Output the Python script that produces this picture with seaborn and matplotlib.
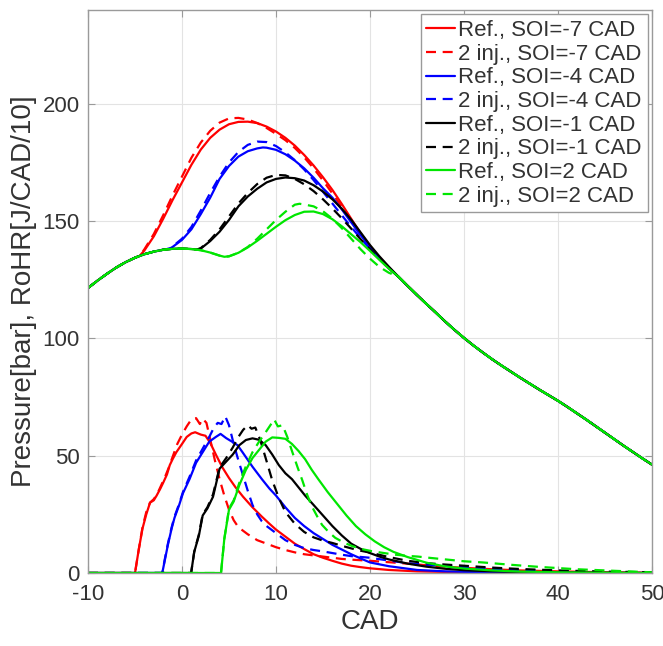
import matplotlib
matplotlib.use("Agg")
import matplotlib.pyplot as plt
import seaborn as sns
import pandas as pd

# ---------------- data ----------------
LABELS = ["Ref., SOI=-7 CAD", "2 inj., SOI=-7 CAD",
          "Ref., SOI=-4 CAD", "2 inj., SOI=-4 CAD",
          "Ref., SOI=-1 CAD", "2 inj., SOI=-1 CAD",
          "Ref., SOI=2 CAD", "2 inj., SOI=2 CAD"]
COLORS = ["#ff0000", "#ff0000", "#0000ff", "#0000ff",
          "#000000", "#000000", "#00e600", "#00e600"]
DASHED = [False, True, False, True, False, True, False, True]

# shared compression (motored) part of the pressure trace
MOT_CAD = [-10, -9, -8, -7, -6, -5, -4, -3, -2, -1, 0, 1, 2]
MOT_P = [121.5, 124.6, 127.5, 130.2, 132.5, 134.4, 135.9, 137.0, 137.8, 138.2, 138.3, 138.1, 137.6]

# shared expansion part of the pressure trace
EXP_CAD = [23, 24, 25, 26, 27, 28, 29, 30, 31, 32, 33, 34, 35, 36, 37, 38, 39, 40,
           41, 42, 43, 44, 45, 46, 47, 48, 49, 50]
EXP_P = [126.4, 122.4, 118.5, 114.7, 111.0, 107.2, 103.6, 100.2, 97.0, 94.0, 91.1, 88.4,
         85.8, 83.2, 80.7, 78.2, 75.8, 73.4, 70.8, 68.1, 65.4, 62.6, 59.8, 57.0, 54.2,
         51.5, 48.8, 46.2]

# combustion part of each pressure trace
P_CAD = [
    [-4.5, -4, -3, -2, -1, 0, 1, 2, 3, 4, 5, 6, 7, 8, 9, 10, 11, 12, 13, 14, 15, 16, 17, 18, 19, 20, 21, 22],
    [-4.5, -4, -3, -2, -1, 0, 1, 2, 3, 4, 5, 6, 7, 8, 9, 10, 11, 12, 13, 14, 15, 16, 17, 18, 19, 20, 21, 22],
    [-1.3, -1, 0, 1, 2, 3, 4, 5, 6, 7, 8, 8.6, 9, 10, 11, 12, 13, 14, 15, 16, 17, 18, 19, 20, 21, 22],
    [-1.3, -1, 0, 1, 2, 3, 4, 5, 6, 7, 8, 9, 10, 11, 12, 13, 14, 15, 16, 17, 18, 19, 20, 21, 22],
    [1.6, 2, 3, 4, 5, 6, 7, 8, 9, 10, 11, 12, 13, 14, 15, 16, 17, 18, 19, 20, 21, 22],
    [1.6, 2, 3, 4, 5, 6, 7, 8, 9, 10, 11, 12, 13, 14, 15, 16, 17, 18, 19, 20, 21, 22],
    [3, 4, 4.5, 5, 6, 7, 8, 9, 10, 11, 12, 13, 14, 15, 16, 17, 18, 19, 20, 21, 22],
    [3, 4, 4.5, 5, 6, 7, 8, 9, 10, 11, 12, 12.5, 13, 14, 15, 16, 17, 18, 19, 20, 21, 22],
]
P_VAL = [
    [135.2, 137.5, 143.5, 151.0, 159.0, 166.5, 174.0, 180.5, 185.5, 189.0, 191.3, 192.3, 192.4, 191.8,
     190.3, 188.2, 185.5, 182.2, 178.2, 173.7, 168.7, 163.3, 157.3, 151.0, 144.8, 139.4, 134.6, 130.3],
    [135.2, 138.0, 144.5, 152.5, 161.0, 169.0, 177.0, 183.5, 188.5, 192.0, 193.8, 194.0, 193.3, 191.8,
     189.7, 187.2, 184.5, 181.2, 177.2, 172.5, 167.3, 161.8, 156.0, 150.0, 144.2, 138.9, 134.0, 129.8],
    [138.3, 139.0, 142.0, 146.5, 153.0, 160.0, 168.0, 173.5, 177.5, 179.8, 181.0, 181.4, 181.3, 180.4,
     178.5, 175.8, 172.5, 168.5, 164.0, 160.0, 155.0, 149.5, 144.0, 139.0, 134.4, 130.2],
    [138.3, 139.2, 142.5, 147.5, 154.5, 162.0, 169.0, 175.0, 179.5, 182.5, 183.9, 183.7, 182.0, 179.3,
     176.0, 172.0, 167.5, 162.5, 157.5, 152.5, 147.5, 142.7, 138.2, 133.9, 129.9],
    [137.9, 138.3, 141.5, 145.5, 150.5, 156.3, 160.5, 163.8, 166.5, 168.0, 168.6, 168.3, 167.3, 165.3,
     162.6, 159.3, 155.3, 150.6, 145.2, 139.8, 135.0, 130.6],
    [137.9, 138.5, 142.0, 146.5, 152.0, 157.5, 162.0, 165.8, 168.5, 169.7, 169.5, 168.0, 165.7, 162.8,
     159.3, 155.4, 151.2, 146.8, 142.3, 138.0, 133.8, 129.8],
    [136.6, 135.3, 134.8, 135.0, 136.5, 138.8, 141.6, 144.6, 147.6, 150.4, 152.6, 154.0, 154.1, 153.0,
     150.8, 147.8, 144.4, 141.0, 137.3, 133.5, 129.8],
    [136.6, 135.3, 134.8, 135.0, 136.5, 139.0, 142.5, 146.5, 150.5, 154.0, 157.0, 157.4, 157.1, 156.3,
     154.2, 151.0, 147.0, 142.5, 138.0, 134.0, 130.5, 128.0],
]

# rate of heat release / 10
H_CAD = [
    [-10, -5.0, -4.6, -4.2, -3.8, -3.4, -3.0, -2.7, -2.3, -2.0, -1.6, -1.3, -1.0, -0.6, 0, 0.5, 1.0, 1.4,
     2.0, 2.5, 3.0, 3.6, 4.3, 5, 5.7, 6.5, 7.5, 8.5, 9.3, 10, 11, 12, 13, 14, 15, 16, 17, 18, 19, 20,
     22, 25, 30, 35, 40, 50],
    [-10, -5.0, -4.6, -4.2, -3.8, -3.4, -3.0, -2.6, -2.2, -1.8, -1.4, -1.0, -0.5, 0, 0.5, 1.0, 1.5, 1.9,
     2.2, 2.6, 3.0, 3.5, 4, 4.5, 5, 5.5, 6, 7, 8, 9, 10, 11, 12, 13, 14, 15, 16, 17, 18, 20, 22, 24,
     26, 28, 30, 33, 36, 40, 45, 50],
    [-10, -2.1, -1.8, -1.5, -1.1, -0.8, -0.3, 0.1, 0.8, 1.5, 2.2, 2.9, 3.6, 4.1, 4.7, 5.4, 5.9, 6.4,
     7.5, 8.5, 9.3, 10, 11, 12, 13, 14, 15, 16, 17, 18, 19, 20, 22, 25, 28, 30, 35, 40, 45, 50],
    [-10, -2.1, -1.8, -1.5, -1.1, -0.8, -0.3, 0.1, 0.8, 1.5, 2.2, 2.9, 3.4, 3.8, 4.2, 4.6, 5.0, 5.5,
     6, 6.5, 7, 7.5, 8, 8.5, 9, 10, 11, 12, 13, 14, 15, 16, 17, 18, 20, 22, 24, 26, 28, 30, 33, 36,
     40, 45, 50],
    [-10, 0.97, 1.3, 1.8, 2.2, 2.7, 3.3, 4, 4.7, 5.4, 6.1, 6.8, 7.5, 8.2, 8.9, 9.6, 10.3, 11, 11.7,
     12.4, 13.1, 14, 15, 16, 17, 18, 19, 20, 21, 22, 24, 26, 28, 30, 33, 36, 40, 45, 50],
    [-10, 0.97, 1.3, 1.8, 2.2, 2.7, 3.3, 4, 4.7, 5.4, 6, 6.5, 7, 7.4, 7.8, 8.3, 8.9, 9.6, 10.3, 11,
     12, 13, 14, 15, 16, 17, 18, 19, 20, 22, 24, 26, 28, 30, 33, 36, 40, 45, 50],
    [-10, 4.15, 4.5, 5, 5.5, 6.1, 6.8, 7.5, 8.2, 8.9, 9.6, 10.3, 11, 11.7, 12.4, 13.1, 13.8, 14.5,
     15.5, 16.5, 17.5, 18.5, 19.5, 20.5, 21.5, 22.5, 24, 26, 28, 30, 33, 36, 40, 45, 50],
    [-10, 4.15, 4.5, 5, 5.5, 6.1, 6.8, 7.5, 8.2, 8.9, 9.4, 9.8, 10.2, 10.7, 11.2, 11.7, 12.3, 12.8,
     13.3, 13.8, 14.4, 14.9, 15.6, 16.3, 17.2, 18.1, 19, 20.2, 21.5, 22.7, 24, 25.1, 26.5, 28, 30,
     32, 35, 38, 40, 42, 45, 48, 50],
]
H_VAL = [
    [0, 0, 10, 19, 25, 30, 31, 33, 36, 38.5, 42, 46, 48.5, 51.5, 55, 58, 59.5, 60, 59, 58.5, 55.5,
     50.5, 45, 40.5, 36.5, 32.5, 28, 24, 21, 18.5, 15.5, 12.5, 10.2, 8, 6.5, 5.2, 4, 3.1, 2.5, 2,
     1.3, 0.7, 0.3, 0.1, 0, 0],
    [0, 0, 10, 19.5, 26, 30, 31.5, 34, 37.5, 41, 45, 49.5, 55, 59, 62.5, 65.5, 66, 63.5, 65.8, 64,
     57, 48, 40, 33, 27, 22.5, 19.5, 16.5, 14, 12.5, 11, 9.8, 8.8, 8, 7.5, 7, 6.5, 6, 5.7, 5.2, 4.6,
     4, 3.3, 2.7, 2.2, 1.6, 1.1, 0.7, 0.3, 0.1],
    [0, 0, 6, 12, 19, 23.5, 29, 34, 40, 47, 51.5, 56, 58, 59.3, 57.5, 55.8, 54.5, 51.7, 45.3, 40,
     36, 33, 28, 23.5, 20, 17, 14.5, 12, 10, 8, 6.2, 4.5, 2.9, 1.3, 0.7, 0.5, 0.2, 0.1, 0, 0],
    [0, 0, 6.5, 12.5, 19.5, 24, 29.5, 34.5, 41, 48, 53, 58, 62, 64, 63.5, 66.8, 63, 55, 48, 41.5,
     35, 29, 25, 22, 20, 17, 14, 12, 10.6, 9.8, 9.2, 8.5, 7.8, 7.2, 6.5, 5.3, 4.2, 3.5, 3, 2.5, 1.8,
     1.3, 0.8, 0.3, 0.1],
    [0, 0, 9, 16, 24.5, 27.5, 32.5, 44.5, 47.5, 50.5, 54.5, 56.7, 57.4, 56.8, 54.5, 50.5, 46, 42.5,
     40, 36.5, 33, 29, 24.5, 20, 16, 12.5, 10.3, 8.5, 7, 5.8, 4, 2.7, 1.8, 1.2, 0.7, 0.4, 0.2, 0.1, 0],
    [0, 0, 9, 16.5, 25, 28, 33.5, 45, 49, 53.5, 58, 61, 63, 61.5, 62, 57, 49, 39.5, 32, 26, 21,
     17.5, 15.2, 13.8, 12.8, 11.6, 10.5, 9.5, 8.7, 6.8, 5.2, 4.2, 3.6, 3.1, 2.3, 1.7, 1.1, 0.6, 0.3],
    [0, 0, 14.5, 27, 30.5, 37.5, 44, 49, 52.5, 56, 57.8, 57.6, 57.2, 55, 52, 48.5, 44, 40, 34.5,
     29.5, 24.5, 20, 16.5, 13.5, 11, 9, 6.8, 4.4, 2.8, 1.9, 1.1, 0.6, 0.3, 0.1, 0],
    [0, 0, 14.5, 27.5, 31, 38.5, 45.5, 51.5, 56, 60, 63, 65.5, 62.5, 63, 58, 52, 45, 39.5, 33.5,
     28.5, 24, 20.5, 17.5, 15, 13, 11.5, 10.3, 9.3, 8.5, 7.8, 7.3, 7, 6.4, 5.8, 5, 4.5, 3.5, 2.6,
     2.1, 1.6, 1.1, 0.6, 0.3],
]

X_TICKS = [-10, 0, 10, 20, 30, 40, 50]
Y_TICKS = [0, 50, 100, 150, 200]
X_LABEL = "CAD"
Y_LABEL = "Pressure[bar], RoHR[J/CAD/10]"

# ---------------- drawing ----------------
sns.set_theme(style="white")
plt.rcParams["font.family"] = ["Liberation Sans", "DejaVu Sans"]
plt.rcParams["axes.unicode_minus"] = False

fig = plt.figure(figsize=(6.63, 6.46), dpi=100)
ax = fig.add_axes([88 / 663, 1 - 573 / 646, (652 - 88) / 663, (573 - 10) / 646])

TEXT_C = "#333333"
EDGE_C = "#9a9a9a"

for i in range(len(LABELS)):
    px = [c for c in MOT_CAD if c < P_CAD[i][0]] + P_CAD[i] + EXP_CAD
    py = [p for c, p in zip(MOT_CAD, MOT_P) if c < P_CAD[i][0]] + P_VAL[i] + EXP_P
    ls = (0, (4.5, 3)) if DASHED[i] else "-"
    sns.lineplot(x=px, y=py, ax=ax, color=COLORS[i], linewidth=1.6,
                 linestyle=ls, sort=False, estimator=None, label=LABELS[i])
    sns.lineplot(x=H_CAD[i], y=H_VAL[i], ax=ax, color=COLORS[i], linewidth=1.6,
                 linestyle=ls, sort=False, estimator=None, legend=False)

ax.set_xlim(-10, 50)
ax.set_ylim(0, 240)
ax.set_xticks(X_TICKS)
ax.set_yticks(Y_TICKS)
ax.grid(True, color="#e3e3e3", linewidth=0.8)
ax.set_axisbelow(True)
for s in ax.spines.values():
    s.set_color(EDGE_C)
    s.set_linewidth(1.0)
ax.tick_params(direction="in", length=5, width=0.8, colors=EDGE_C,
               labelcolor=TEXT_C, labelsize=16, top=True, right=True,
               bottom=True, left=True)
ax.tick_params(axis="x", pad=8)
ax.tick_params(axis="y", pad=6)
ax.set_xlabel(X_LABEL, fontsize=20, color=TEXT_C, labelpad=3)
ax.set_ylabel(Y_LABEL, fontsize=20, color=TEXT_C, labelpad=4)

leg = ax.legend(loc="upper right", fontsize=16, frameon=True, fancybox=False,
                framealpha=1, edgecolor=EDGE_C, handlelength=1.3, handletextpad=0.15,
                labelspacing=0.12, borderpad=0.25, borderaxespad=0.2)
leg.get_frame().set_linewidth(1.0)
for t in leg.get_texts():
    t.set_color(TEXT_C)

fig.savefig("out.png", dpi=100)
